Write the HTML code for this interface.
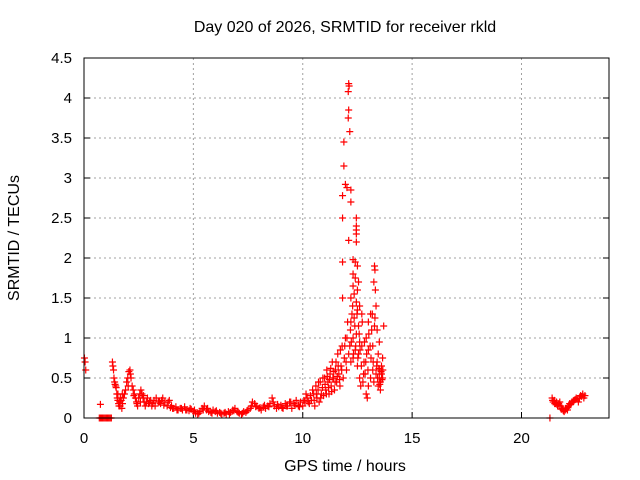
<!DOCTYPE html>
<html><head><meta charset="utf-8"><style>
html,body{margin:0;padding:0;background:#fff;}
svg{display:block;font-family:"Liberation Sans",sans-serif;}
</style></head><body>
<svg id="chart" width="640" height="480">
<rect width="640" height="480" fill="#fff"/>
<text x="345" y="32" font-size="16" text-anchor="middle">Day 020 of 2026, SRMTID for receiver rkld</text>
<text x="345" y="471" font-size="16" text-anchor="middle">GPS time / hours</text>
<text x="19" y="238" font-size="16" text-anchor="middle" transform="rotate(-90 19 238)">SRMTID / TECUs</text>
<g id="grid"></g><g id="ticks"></g><g id="pts"></g>
<rect x="84" y="58" width="525" height="360" fill="none" stroke="#000" stroke-width="1"/>
</svg>
<script>
const xTicks=[0,5,10,15,20];
const yTicks=[0,0.5,1,1.5,2,2.5,3,3.5,4,4.5];
const yTickLabels=["0","0.5","1","1.5","2","2.5","3","3.5","4","4.5"];
const hours=[0.02,0.05,0.08,0.7,0.75,0.8,0.85,0.9,0.95,1.0,1.05,1.1,1.15,1.2,1.25,0.75,
1.3,1.32,1.35,1.37,1.4,1.42,1.45,1.47,1.5,1.52,1.55,1.58,1.6,1.63,1.66,1.7,1.73,1.76,1.8,1.85,1.9,
1.95,2.0,2.05,2.1,2.15,2.2,2.25,2.3,2.35,2.4,2.45,2.5,2.55,2.6,2.65,2.7,2.75,2.8,2.85,2.9,
3.0,3.1,3.2,3.3,3.4,3.5,3.6,3.7,3.8,3.9,4.0,4.1,4.2,4.3,4.4,4.5,4.6,4.7,4.8,4.9,
5.0,5.1,5.2,5.3,5.4,5.5,5.6,5.7,5.8,5.9,6.0,6.1,6.2,6.3,6.4,6.5,6.6,6.7,6.8,6.9,7.0,7.1,7.2,7.3,7.4,7.5,
7.6,7.7,7.8,7.9,8.0,8.1,8.2,8.3,8.4,8.5,8.6,8.7,8.8,8.9,9.0,9.1,9.2,9.3,9.4,9.5,9.6,9.7,9.8,9.9,
10.0,10.1,10.2,10.3,10.4,10.5,10.55,10.6,10.65,10.7,10.75,10.8,10.85,10.9,10.95,
11.0,11.05,11.1,11.15,11.2,11.25,11.3,11.35,11.4,11.45,11.5,11.55,11.6,11.65,11.7,11.75,11.8,11.85,11.9,11.95,12.0,12.05,12.1,
12.1,12.12,12.08,12.1,12.08,12.15,11.88,11.88,11.95,12.02,12.2,11.82,12.2,11.82,12.45,12.45,12.45,12.45,12.45,12.1,11.82,12.3,12.4,12.5,12.3,12.4,12.55,12.3,12.5,12.35,12.2,11.82,12.45,12.6,12.25,12.5,12.7,12.35,12.2,12.55,12.45,12.3,12.6,12.15,12.4,12.7,12.55,12.3,12.2,12.5,12.8,
13.0,12.9,13.0,13.1,13.15,13.2,13.25,13.3,13.28,13.32,13.35,13.3,13.4,13.2,13.1,13.0,12.9,12.95,13.25,13.35,13.4,13.45,13.5,13.5,13.55,13.6,13.6,13.65,13.55,13.45,13.65,13.7,13.5,12.85,12.75,12.6,12.65,
21.3,21.4,21.45,21.5,21.55,21.6,21.65,21.7,21.75,21.8,21.85,21.9,21.95,22.0,22.05,22.1,22.15,22.2,22.3,22.4,22.5,22.6,22.7,22.8,22.85,22.9,
1.55,1.65,1.75,2.02,2.12,2.28,2.42,2.58,2.72,2.95,3.05,3.15,3.25,3.45,3.55,3.65,3.85,3.95,4.05,4.25,4.45,4.65,4.85,5.05,5.25,5.45,5.65,5.85,6.05,6.25,6.45,6.65,6.85,7.05,7.25,7.45,7.65,7.85,8.05,8.25,8.45,8.65,8.85,9.05,9.25,9.45,9.65,9.85,
10.05,10.15,10.25,10.35,10.45,10.52,10.62,10.72,10.82,10.92,11.02,11.08,11.12,11.18,11.22,11.28,11.32,11.38,11.42,11.48,11.52,11.58,11.62,11.68,11.72,11.78,11.92,11.98,12.02,12.18,12.22,12.28,12.32,12.38,12.42,12.48,12.52,12.58,12.62,12.68,12.72,12.78,12.82,12.88,12.92,12.98,13.02,13.08,13.12,13.18,13.22,13.28,13.38,13.42,13.48,13.52,13.58,13.62,13.66,
21.42,21.52,21.62,21.72,21.82,21.92,22.02,22.12,22.25,22.35,22.45,22.55,22.65,22.75];
const srmtid=[0.75,0.7,0.6,0,0,0,0,0,0,0,0,0,0,0,0,0.17,
0.7,0.65,0.6,0.5,0.45,0.42,0.4,0.38,0.3,0.25,0.22,0.18,0.15,0.2,0.25,0.22,0.12,0.18,0.25,0.3,0.35,
0.45,0.5,0.58,0.6,0.5,0.4,0.35,0.3,0.25,0.2,0.15,0.25,0.3,0.35,0.3,0.25,0.2,0.15,0.2,0.25,
0.2,0.15,0.22,0.25,0.2,0.18,0.25,0.2,0.15,0.22,0.15,0.12,0.14,0.1,0.12,0.1,0.14,0.1,0.09,0.11,
0.08,0.06,0.05,0.08,0.12,0.15,0.1,0.08,0.07,0.1,0.08,0.06,0.07,0.05,0.06,0.05,0.08,0.07,0.1,0.12,0.08,0.06,0.05,0.08,0.07,0.1,
0.12,0.2,0.18,0.15,0.12,0.1,0.14,0.12,0.15,0.18,0.25,0.15,0.12,0.14,0.16,0.12,0.18,0.15,0.2,0.12,0.18,0.22,0.15,0.2,
0.15,0.2,0.25,0.18,0.22,0.3,0.15,0.4,0.25,0.35,0.2,0.45,0.3,0.38,0.28,
0.5,0.35,0.6,0.45,0.3,0.55,0.4,0.7,0.5,0.35,0.6,0.45,0.8,0.55,0.4,0.65,0.9,0.5,0.75,1.0,0.6,1.2,0.8,
4.18,4.15,4.08,3.85,3.75,3.58,3.45,3.15,2.92,2.88,2.85,2.78,2.7,2.5,2.5,2.4,2.35,2.3,2.2,2.22,1.95,1.98,1.95,1.9,1.8,1.75,1.7,1.65,1.6,1.55,1.5,1.5,1.45,1.4,1.3,1.35,1.3,1.25,1.2,1.15,1.05,1.0,0.95,0.9,0.85,0.9,0.8,0.75,0.7,0.65,0.7,
0.85,1.0,1.2,1.3,1.1,0.9,1.7,1.85,1.9,1.6,1.4,1.25,1.1,0.6,0.5,0.4,0.3,0.25,0.45,0.55,0.7,0.8,0.6,0.5,0.45,0.65,0.55,0.5,0.35,0.4,0.75,1.15,0.95,0.55,0.45,0.5,0.4,
0,0.25,0.2,0.22,0.18,0.2,0.15,0.18,0.2,0.15,0.12,0.1,0.08,0.1,0.12,0.1,0.15,0.18,0.2,0.22,0.25,0.2,0.28,0.3,0.25,0.28,
0.3,0.15,0.3,0.4,0.55,0.28,0.18,0.2,0.28,0.18,0.22,0.18,0.15,0.2,0.22,0.16,0.2,0.13,0.12,0.1,0.12,0.1,0.12,0.1,0.06,0.1,0.12,0.06,0.09,0.06,0.07,0.05,0.09,0.07,0.06,0.09,0.15,0.14,0.13,0.16,0.14,0.2,0.17,0.13,0.15,0.2,0.16,0.14,
0.22,0.3,0.2,0.28,0.35,0.22,0.3,0.45,0.25,0.5,0.42,0.3,0.52,0.38,0.48,0.62,0.33,0.5,0.58,0.45,0.7,0.52,0.65,0.48,0.85,0.6,0.9,0.7,1.0,1.1,0.95,1.4,0.8,1.15,0.9,1.3,0.75,1.05,0.85,0.65,1.2,0.55,0.95,0.7,0.8,0.6,1.05,0.9,0.75,1.3,0.7,1.15,0.65,0.5,0.62,0.42,0.58,0.48,0.6,
0.22,0.18,0.17,0.16,0.11,0.09,0.12,0.13,0.17,0.2,0.23,0.24,0.25,0.27];
const NS="http://www.w3.org/2000/svg";
const X0=84,X1=609,Y0=418,Y1=58;
function xs(v){return X0+(v/24)*(X1-X0);}
function ys(v){return Y0-(v/4.5)*(Y0-Y1);}
function mk(tag,attrs,parent){const e=document.createElementNS(NS,tag);for(const k in attrs)e.setAttribute(k,attrs[k]);parent.appendChild(e);return e;}
const grid=document.getElementById('grid'),ticks=document.getElementById('ticks'),pts=document.getElementById('pts');
xTicks.forEach(t=>{
  const x=xs(t);
  if(t>0){const g=mk('line',{x1:x,x2:x,y1:Y1,y2:Y0,stroke:'#a0a0a0','stroke-dasharray':'2,3'},grid);
  
  }
  const tl=mk('line',{x1:x,x2:x,y1:Y0,y2:Y0-6,stroke:'#000'},ticks);
  
  
  const tx=mk('text',{x:x,y:Y0+25,'font-size':15,'text-anchor':'middle'},ticks);tx.textContent=t;
  
  
});
yTicks.forEach((t,i)=>{
  const y=ys(t);
  if(t>0&&t<4.5){const g=mk('line',{x1:X0,x2:X1,y1:y,y2:y,stroke:'#a0a0a0','stroke-dasharray':'2,3'},grid);
  
  }
  const tl=mk('line',{x1:X0,x2:X0+6,y1:y,y2:y,stroke:'#000'},ticks);
  
  
  const tr=mk('line',{x1:X1,x2:X1-6,y1:y,y2:y,stroke:'#000'},ticks);
  
  
  const tx=mk('text',{x:X0-12,y:y+5,'font-size':15,'text-anchor':'end'},ticks);tx.textContent=yTickLabels[i];
  
  
});
hours.forEach((h,i)=>{
  const x=xs(h),y=ys(srmtid[i]);
  const p=mk('path',{d:`M${x-3.5} ${y}H${x+3.5}M${x} ${y-3.5}V${y+3.5}`,stroke:'#ff0000','stroke-width':1.2,fill:'none'},pts);
  
  
});
</script>
</body></html>
